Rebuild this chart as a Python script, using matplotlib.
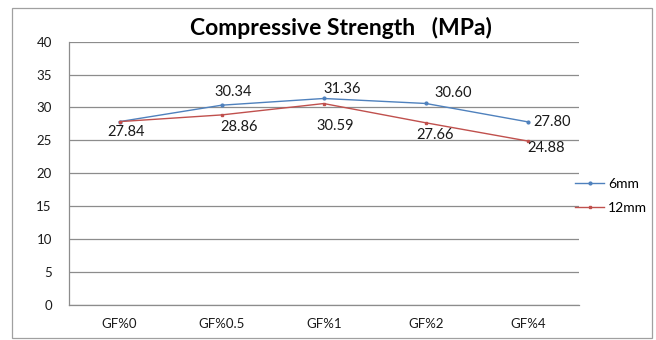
import matplotlib
matplotlib.use("Agg")
import matplotlib.pyplot as plt
from matplotlib.patches import Rectangle
import numpy as np

plt.rcParams['font.family'] = ['Lato', 'DejaVu Sans']

categories = ['GF%0', 'GF%0.5', 'GF%1', 'GF%2', 'GF%4']
mm6 = [27.84, 30.34, 31.36, 30.60, 27.80]
mm12 = [27.84, 28.86, 30.59, 27.66, 24.88]
# label offsets in pixels (None = no label shown)
off6 = [None, (12, 13), (18, 9), (27, 10), (24, 0)]
off12 = [(7, -10), (17, -12), (11, -22), (9, -12), (18, -7)]

blue = '#4F81BD'
red = '#C0504D'
grey = '#8C8C8C'

fig = plt.figure(figsize=(6.56, 3.40), dpi=100)
ax = fig.add_axes([68.5 / 656, 1 - 304.6 / 340, (579 - 68.5) / 656, (304.6 - 41.7) / 340])

x = np.arange(len(categories))
ax.plot(x, mm6, color=blue, lw=1, marker='o', ms=2, label='6mm')
ax.plot(x, mm12, color=red, lw=1, marker='s', ms=2, label='12mm')

for xi, v, o in zip(x, mm6, off6):
    if o is not None:
        ax.annotate(f'{v:.2f}', (xi, v), xytext=o, textcoords='offset pixels',
                    ha='center', va='center', fontsize=10.5, color='#1a1a1a')
for xi, v, o in zip(x, mm12, off12):
    if o is not None:
        ax.annotate(f'{v:.2f}', (xi, v), xytext=o, textcoords='offset pixels',
                    ha='center', va='center', fontsize=10.5, color='#1a1a1a')

ax.set_xlim(-0.5, len(categories) - 0.5)
ax.set_ylim(0, 40)
ax.set_yticks(np.arange(0, 41, 5))
ax.set_xticks(x)
ax.set_xticklabels(categories)
ax.tick_params(length=0, labelsize=9.5, colors='#1a1a1a', pad=12)
ax.tick_params(axis='x', pad=10)
ax.grid(axis='y', color=grey, lw=0.9)
ax.set_axisbelow(True)
for s in ['top', 'right']:
    ax.spines[s].set_visible(False)
for s in ['left', 'bottom']:
    ax.spines[s].set_color(grey)
    ax.spines[s].set_linewidth(0.9)

fig.text(341 / 656, 1 - 28 / 340, 'Compressive Strength   (MPa)', ha='center', va='center',
         fontsize=16.5, fontweight='bold')

ax.legend(loc='upper left', bbox_to_anchor=(568 / 656, 1 - 171 / 340), bbox_transform=fig.transFigure,
          frameon=False, fontsize=10, handlelength=2.1, labelspacing=0.85, handletextpad=0.3,
          borderpad=0)

fig.patches.append(Rectangle((12 / 656, 2 / 340), 640 / 656, 330 / 340, transform=fig.transFigure,
                             fill=False, edgecolor='#A0A0A0', lw=0.9))

fig.savefig('out.png', dpi=100)
